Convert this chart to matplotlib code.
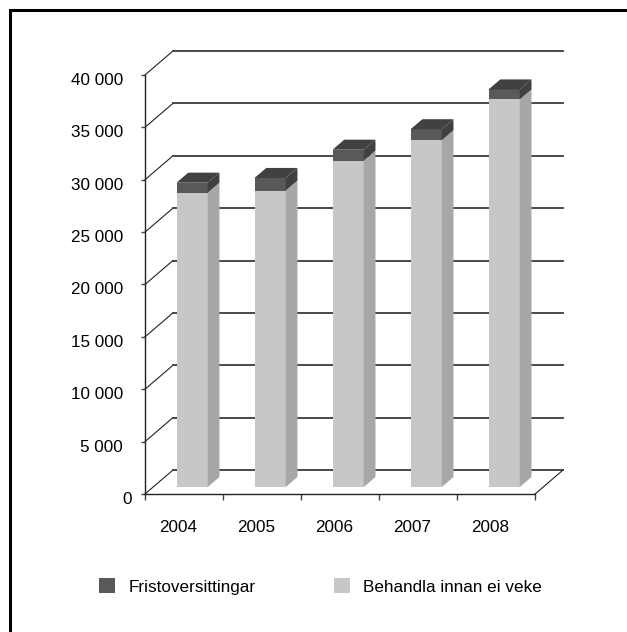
import numpy as np
import matplotlib
matplotlib.use('Agg')
import matplotlib.pyplot as plt
from matplotlib.patches import Rectangle, Polygon, Patch
from matplotlib.transforms import ScaledTranslation

plt.rcParams['font.family'] = ['Liberation Sans', 'DejaVu Sans']

# data
years = ['2004', '2005', '2006', '2007', '2008']
behandla = [28100, 28300, 31150, 33100, 37000]   # Behandla innan ei veke
frist = [950, 1200, 1050, 1050, 950]             # Fristoversittingar
yticks = list(range(0, 40001, 5000))
ytick_labels = ['{:,}'.format(v).replace(',', ' ') for v in yticks]

# colours
c_light, c_light_side = '#c6c7c9', '#a6a7a9'
c_dark, c_dark_side, c_dark_top = '#58595b', '#3f4042', '#414143'

# pseudo 3d: back wall offset in data units
DX, DY = 0.358, 2286
D0, D1 = 0.29, 0.71   # bar depth range (fraction of wall depth)
BW = 0.40             # bar width
n = len(years)
FS = 12.3

fig = plt.figure(figsize=(6.27, 6.32), dpi=100)
W, H = 627, 632
ax = fig.add_axes([145 / W, (H - 494) / H, (563 - 145) / W, (494 - 51) / H])
ax.set_xlim(0, n + DX)
ax.set_ylim(0, 40000 + DY)
ax.patch.set_visible(False)

for s in ['top', 'right']:
    ax.spines[s].set_visible(False)
ax.spines['left'].set_bounds(0, 40000)
ax.spines['bottom'].set_bounds(0, n)
for s in ['left', 'bottom']:
    ax.spines[s].set_linewidth(1.0)
    ax.spines[s].set_color('#222222')

# y axis
ax.set_yticks(yticks)
ax.set_yticklabels(ytick_labels, fontsize=FS)
ax.tick_params(axis='y', direction='out', length=3, width=1, color='#444444', pad=13)
for k, t in enumerate(ax.get_yticklabels()):
    dx = 9 / 100 if k == 0 else 0   # the zero label sits closer to the axis
    t.set_transform(t.get_transform() + ScaledTranslation(dx, -4 / 100, fig.dpi_scale_trans))

# x axis: ticks at category borders, labels at centres
ax.set_xticks(np.arange(n + 1))
ax.set_xticklabels([''] * (n + 1))
ax.tick_params(axis='x', which='major', direction='out', length=4, width=1, color='#444444')
ax.set_xticks(np.arange(n) + 0.5 - 0.07, minor=True)
ax.set_xticklabels(years, minor=True, fontsize=FS)
ax.tick_params(axis='x', which='minor', length=0, pad=19)

# walls / gridlines
for v in yticks:
    ax.plot([0, DX], [v, v + DY], color='#222222', lw=0.8, clip_on=False, zorder=1)
    ax.plot([DX, n + DX], [v + DY, v + DY], color='#3c3c3c', lw=1.3, clip_on=False, zorder=1)
ax.plot([n, n + DX], [0, DY], color='#222222', lw=0.8, clip_on=False, zorder=1)

# bars
sdx, sdy = DX * (D1 - D0), DY * (D1 - D0)
for i in range(n):
    lo, hi = behandla[i], frist[i]
    tot = lo + hi
    x0 = i + 0.5 - BW / 2 + DX * D0
    y0 = DY * D0
    xr = x0 + BW
    ax.add_patch(Rectangle((x0, y0), BW, lo, fc=c_light, ec='none', zorder=3))
    ax.add_patch(Polygon([(xr, y0), (xr + sdx, y0 + sdy), (xr + sdx, y0 + sdy + lo), (xr, y0 + lo)],
                         fc=c_light_side, ec='none', zorder=3))
    ax.add_patch(Rectangle((x0, y0 + lo), BW, hi, fc=c_dark, ec='none', zorder=3))
    ax.add_patch(Polygon([(xr, y0 + lo), (xr + sdx, y0 + lo + sdy), (xr + sdx, y0 + tot + sdy), (xr, y0 + tot)],
                         fc=c_dark_side, ec='none', zorder=3))
    ax.add_patch(Polygon([(x0, y0 + tot), (xr, y0 + tot), (xr + sdx, y0 + tot + sdy), (x0 + sdx, y0 + tot + sdy)],
                         fc=c_dark_top, ec='none', zorder=3))

# legend
handles = [Patch(fc=c_dark, ec='none', label='Fristoversittingar'),
           Patch(fc=c_light, ec='none', label='Behandla innan ei veke')]
fig.legend(handles=handles, loc='center left', bbox_to_anchor=(99 / W, 1 - 586.5 / H),
           ncol=2, frameon=False, fontsize=FS, handlelength=0.92, handleheight=0.92,
           handletextpad=0.8, columnspacing=4.6, borderpad=0, borderaxespad=0)

# outer frame (only left and top edges inside the picture)
fig.add_artist(Rectangle((10 / W, -0.1), 1.2, 1.1 - 10 / H, transform=fig.transFigure,
                         fill=False, ec='black', lw=2.2))

fig.savefig('out.png', dpi=100)
